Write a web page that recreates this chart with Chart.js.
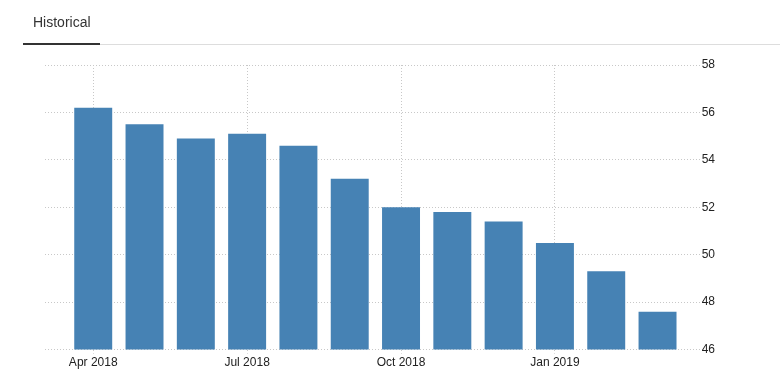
<!DOCTYPE html>
<html>
<head>
<meta charset="utf-8">
<script src="https://cdn.jsdelivr.net/npm/chart.js@4/dist/chart.umd.min.js"></script>
<style>
  html, body { margin: 0; padding: 0; background: #fff; }
  #wrap { position: relative; width: 780px; height: 388px; overflow: hidden; }
  #tab { position: absolute; left: 33px; top: 14px; font: 14px "Liberation Sans", Arial, sans-serif; color: #333; }
  #line { position: absolute; left: 23px; right: 0; top: 44px; height: 1px; background: #ddd; }
  #active { position: absolute; left: 23px; width: 77px; top: 43px; height: 2px; background: #333; }
  #chart { position: absolute; left: 0; top: 0; }
</style>
</head>
<body>
<div id="wrap">
  <canvas id="chart" width="780" height="388"></canvas>
  <div id="tab">Historical</div>
  <div id="line"></div>
  <div id="active"></div>
</div>
<script>
// monthly values, Apr 2018 .. Mar 2019
var months = ['Apr 2018','May 2018','Jun 2018','Jul 2018','Aug 2018','Sep 2018',
              'Oct 2018','Nov 2018','Dec 2018','Jan 2019','Feb 2019','Mar 2019'];
var values = [56.2, 55.5, 54.9, 55.1, 54.6, 53.2, 52.0, 51.8, 51.4, 50.5, 49.3, 47.6];
var tickIdx = [0, 3, 6, 9];
var yTicks = [46, 48, 50, 52, 54, 56, 58];

var points = values.map(function(v, i){ return {x: i, y: v}; });
var font = {family: '"Liberation Sans", Arial, sans-serif', size: 12};

var grath = new Chart(document.getElementById('chart'), {
  type: 'bar',
  data: {
    datasets: [{
      label: 'Historical',
      data: points,
      backgroundColor: '#4682b4',
      borderWidth: 0,
      categoryPercentage: 1,
      barPercentage: 0.74
    }]
  },
  options: {
    responsive: false,
    animation: false,
    layout: { padding: { left: 45, right: 65, top: 65, bottom: 16 } },
    plugins: { legend: { display: false }, tooltip: { enabled: false } },
    scales: {
      x: {
        type: 'linear',
        offset: false,
        min: -0.94,
        max: 11.86,
        afterBuildTicks: function(axis) {
          axis.ticks = tickIdx.map(function(v){ return {value: v}; });
        },
        ticks: {
          autoSkip: false,
          maxRotation: 0,
          color: '#222',
          font: font,
          padding: 2,
          callback: function(v){ return months[v]; }
        },
        grid: {
          offset: false,
          color: '#c8c8c8',
          tickColor: '#c8c8c8',
          tickLength: 4,
          tickBorderDash: [1, 2]
        },
        border: { display: false, dash: [1, 2] }
      },
      y: {
        position: 'right',
        min: 46,
        max: 58,
        afterBuildTicks: function(axis) {
          axis.ticks = yTicks.map(function(v){ return {value: v}; });
        },
        ticks: { color: '#222', font: font, padding: 0 },
        grid: { color: '#c8c8c8', drawTicks: false },
        border: { display: false, dash: [1, 2] }
      }
    }
  }
});
</script>
</body>
</html>
